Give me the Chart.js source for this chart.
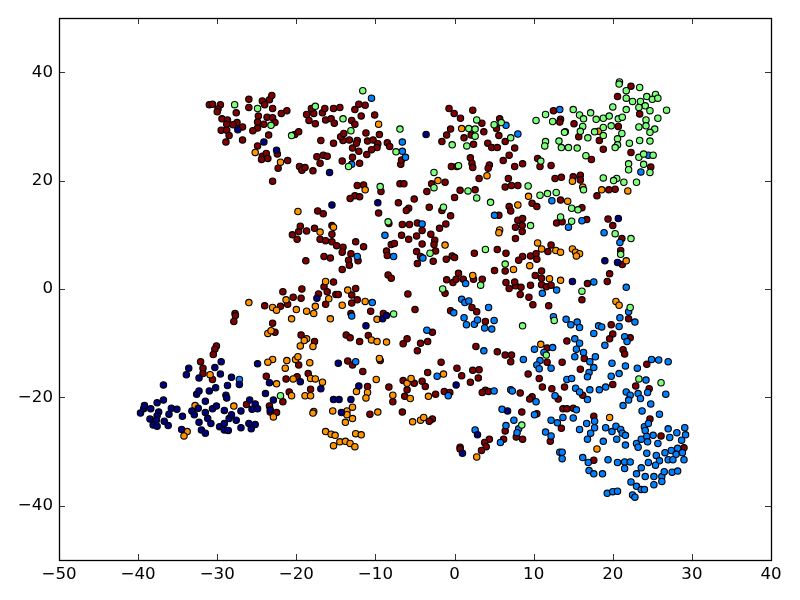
<!DOCTYPE html>
<html>
<head>
<meta charset="utf-8">
<script src="https://cdn.jsdelivr.net/npm/chart.js@4"></script>
<style>
  html, body { margin: 0; padding: 0; background: #fff; }
  canvas { display: block; }
</style>
</head>
<body>
<canvas id="scatter" width="800" height="600"></canvas>
<script>
// tick values
const xTicks = [-50, -40, -30, -20, -10, 0, 10, 20, 30, 40];
const yTicks = [-40, -20, 0, 20, 40];

// values, one list per colour
const navyPoints = [
  [-39.7,-22.9],[-39.3,-22.1],[-39.2,-21.5],[-38.4,-22.1],[-37.6,-21.0],[-36.8,-20.5],[-37.4,-22.7],[-37.6,-23.4],[-38.5,-24.0],[-37.7,-24.2],
  [-38.1,-25.1],[-37.6,-25.3],[-36.7,-24.4],[-36.2,-25.2],[-36.1,-23.1],[-35.8,-22.0],[-35.1,-22.2],[-34.4,-23.5],[-34.5,-25.9],[-36.8,-17.7],
  [-33.9,-15.8],[-33.6,-14.6],[-32.3,-16.4],[-32.6,-19.4],[-32.3,-18.8],[-31.0,-18.8],[-30.2,-18.2],[-29.6,-15.7],[-30.3,-14.5],[-29.5,-13.4],
  [-28.7,-17.8],[-28.2,-16.3],[-27.2,-17.6],[-28.9,-19.6],[-28.8,-20.1],[-31.5,-20.7],[-33.2,-22.5],[-32.9,-23.2],[-32.4,-22.0],[-31.5,-22.8],
  [-30.6,-22.1],[-30.1,-21.6],[-29.1,-22.4],[-31.2,-23.9],[-30.8,-24.8],[-32.3,-24.6],[-32.0,-26.0],[-31.5,-26.6],[-29.7,-25.4],[-29.1,-24.8],
  [-29.1,-26.0],[-28.6,-26.1],[-28.5,-23.9],[-28.2,-23.2],[-27.6,-24.2],[-27.0,-25.6],[-26.0,-24.8],[-25.7,-25.8],[-25.2,-25.0],[-27.0,-22.5],
  [-25.9,-20.5],[-25.2,-21.2],[-25.6,-22.2],[-24.9,-22.1],[-24.9,-13.8],
  [-17.4,-1.7],[-11.2,-6.8],[-9.1,-5.5],[-8.6,-4.9],[-14.7,-13.7],[-23.4,-17.3],[-19.5,-17.1],[-16.9,-18.4],[-23.9,-19.3],[-22.9,-20.5],
  [-15.3,-20.4],[-14.6,-20.4],[-13.1,-20.4],[-12.1,-17.9],[-14.3,-22.8],[0.2,-17.7],[-23.3,-22.3],
  [14.9,1.4],[6.7,-22.5],[2.9,-26.9],[1.0,-30.3],
  [-27.4,29.4],[-24.1,27.1],[-22.5,25.6],[-15.8,21.5],[-3.6,28.5],[-15.5,15.5],[-9.7,15.9],
  [20.7,13.0],[19.0,5.2],[20.6,4.9]
];
const bluePoints = [
  [-27.2,-16.7],[-10.4,-2.5],[-13.0,-5.0],[-3.5,-7.6],[-12.5,-13.4],[-2.2,-16.1],[-0.8,-19.7],
  [0.9,-1.9],[1.3,-2.5],[1.8,-2.2],[-0.1,-4.4],[4.3,-3.4],[1.2,-5.3],[1.5,-6.6],[2.5,-6.5],[2.9,-5.7],[3.8,-7.2],[4.7,-7.4],[5.0,-5.8],
  [21.7,0.3],[17.6,1.3],[11.1,-0.8],[12.9,-0.2],[22.0,-4.2],[20.9,-5.3],[20.8,-6.9],[22.8,-6.1],[12.5,-5.1],[14.1,-5.6],[14.7,-6.6],
  [15.5,-6.1],[15.8,-7.1],[17.6,-8.2],[18.2,-6.8],[18.6,-7.0],[21.5,-8.8],[21.8,-9.7],[19.0,-10.4],[15.2,-9.2],[15.8,-10.0],
  [15.4,-11.1],[16.3,-11.7],[15.2,-12.5],[17.8,-12.5],[17.1,-13.4],[17.6,-14.5],[17.0,-15.4],[16.8,-16.2],[10.1,-11.1],[12.4,-10.8],
  [8.7,-13.0],[10.8,-13.2],[10.4,-14.0],[10.7,-14.7],[12.2,-14.6],[11.3,-11.7],[19.9,-13.7],[21.6,-14.2],[20.8,-15.6],[19.8,-16.1],
  [23.1,-14.6],[24.9,-13.0],[25.8,-13.1],[27.0,-13.4],[14.2,-16.7],[14.8,-16.5],[24.2,-16.8],[15.3,-18.3],[15.8,-19.0],[17.1,-18.6],
  [16.8,-20.4],[18.3,-18.6],[19.1,-18.1],[21.7,-19.0],[22.2,-19.6],[23.2,-19.3],[23.5,-20.2],[22.0,-20.5],[21.3,-21.5],[24.4,-19.1],
  [26.7,-19.4],[24.8,-21.2],[23.7,-22.5],[25.9,-23.1],[3.7,-11.4],[5.0,-18.8],[7.1,-18.6],[7.3,-18.8],[10.3,-20.8],[6.0,-22.2],
  [7.5,-24.2],[6.5,-25.2],[8.1,-25.8],[7.9,-26.5],[5.8,-28.3],[2.6,-26.0],[12.2,-24.2],[13.0,-24.7],[13.7,-23.7],[15.0,-23.8],
  [15.4,-22.3],[10.1,-23.2],[11.5,-26.4],[12.2,-27.1],[15.8,-25.9],[16.7,-24.8],[17.7,-24.4],[17.7,-25.6],[17.2,-26.6],[16.8,-27.7],
  [18.8,-28.1],[19.1,-25.6],[19.9,-26.3],[20.4,-25.3],[21.0,-25.9],[21.2,-26.6],[21.6,-27.0],[20.5,-27.7],[21.6,-28.8],[23.0,-28.5],
  [23.2,-29.2],[24.0,-25.4],[24.5,-24.8],[24.1,-26.1],[25.1,-27.0],[23.6,-27.7],[24.3,-27.2],[24.4,-28.2],[25.7,-28.5],[27.0,-25.8],
  [27.2,-27.4],[28.1,-26.5],[29.1,-25.6],[29.2,-26.9],[28.7,-27.9],[28.2,-29.4],[27.4,-29.8],[26.6,-30.2],[24.3,-30.3],[25.5,-30.7],
  [28.0,-30.5],[28.8,-30.2],[27.0,-31.5],[27.6,-31.5],[29.0,-31.5],[25.9,-31.7],[25.4,-32.5],[24.5,-32.0],[23.6,-33.0],[23.0,-34.1],
  [24.1,-34.6],[25.2,-34.6],[26.2,-34.6],[26.5,-33.7],[27.5,-33.8],[28.2,-33.6],[26.2,-35.5],[25.2,-36.1],[22.3,-35.6],[23.0,-36.4],
  [23.6,-37.0],[24.0,-37.0],[19.3,-37.7],[20.0,-37.4],[20.6,-37.3],[22.5,-38.0],[22.8,-38.4],[16.2,-31.1],[16.9,-32.0],[17.0,-33.5],
  [17.6,-34.1],[18.7,-34.1],[19.4,-31.5],[20.6,-32.0],[21.5,-31.9],[22.2,-31.9],[21.5,-33.1],[13.3,-30.1],[13.6,-30.1],[13.6,-31.3],[12.7,-19.7],
  [-10.5,35.2],[-6.6,27.1],[-6.6,25.4],[-6.2,24.3],[-13.0,23.0],[-4.1,12.0],[-8.8,9.9],[-7.7,6.0],[-4.0,5.7],[-12.3,6.0],
  [13.3,33.1],[6.5,30.2],[8.0,28.6],[24.5,24.7],[23.55,21.6],[12.3,16.3],[5.05,13.6],[16.1,12.6],[14.4,11.4],[18.9,10.4],[20.9,8.6],[1.4,1.0]
];
const greenPoints = [
  [-1.5,0.0],[-7.7,-4.6],[-22.0,-19.7],[3.3,0.7],[16.1,-0.4],[22.2,-3.4],[8.6,-6.8],[12.6,-5.8],[11.6,-12.2],[23.3,-16.6],[26.1,-17.3],[8.5,-25.1],
  [-27.8,34.0],[-24.9,33.3],[-23.2,30.2],[-20.6,28.3],[-17.6,33.7],[-14.1,31.4],[-13.1,29.2],[-11.6,36.6],[-6.9,29.5],[-7.4,25.3],
  [-13.4,22.6],[-2.6,21.5],[-2.6,18.7],[-9.4,18.9],[-1.4,15.1],[-8.4,12.4],[-3.1,6.6],
  [20.85,38.2],[20.8,37.8],[23.4,37.2],[21.7,36.6],[24.3,35.5],[25.4,35.9],[25.0,35.0],[25.7,35.2],[21.7,35.2],[22.5,34.6],
  [23.5,34.6],[24.1,33.8],[23.3,33.5],[20.0,33.6],[21.7,33.1],[24.7,32.9],[26.8,33.0],[15.0,33.1],[15.8,32.1],[16.3,31.4],
  [17.2,32.5],[17.9,31.3],[18.8,31.5],[19.55,31.9],[20.7,31.4],[21.2,31.7],[25.7,31.5],[24.2,31.2],[24.2,30.1],[23.3,29.9],
  [25.3,29.5],[24.7,28.9],[16.2,30.0],[15.9,29.1],[19.8,30.1],[18.8,29.8],[14.0,29.0],[13.9,28.9],[17.7,29.0],[18.8,28.3],
  [16.85,27.9],[21.15,28.7],[20.6,27.7],[20.6,26.6],[20.3,26.1],[22.1,26.9],[23.4,27.4],[24.7,27.3],[13.2,27.3],[11.5,27.2],
  [11.4,26.4],[13.5,26.1],[14.4,26.1],[15.5,26.0],[16.6,24.6],[23.3,24.3],[23.9,24.9],[25.1,24.7],[22.0,23.1],[22.0,22.0],
  [23.9,23.0],[24.7,21.5],[18.8,20.5],[20.5,20.4],[20.1,20.0],[21.4,19.7],[23.0,19.7],[21.0,6.4],[22.3,9.3],[20.3,10.2],
  [10.3,31.1],[11.5,32.2],[12.4,30.9],[2.8,31.2],[1.8,29.6],[2.6,29.5],[2.6,28.2],[-0.3,26.6],[1.55,26.4],[5.0,30.3],
  [5.9,30.7],[7.1,27.9],[10.9,23.6],[0.5,22.75],[9.3,19.0],[10.8,17.3],[11.75,17.6],[12.85,17.8],[1.7,18.1],[2.8,16.8],
  [4.55,16.0],[14.8,14.9],[15.6,14.6],[16.3,18.3],[13.4,13.3],[14.8,12.5],[9.6,11.7],[3.9,7.3],[6.4,4.6]
];
const orangePoints = [
  [-26.0,-2.5],[-30.9,-15.8],[-32.8,-21.5],[-27.9,-21.6],[-33.8,-26.3],[-34.2,-27.1],
  [-16.3,1.4],[-13.5,-0.2],[-15.9,-1.8],[-17.6,-3.2],[-14.2,-3.0],[-11.3,-2.3],[-23.0,-3.4],[-22.5,-3.9],[-21.3,-2.0],[-20.0,-3.8],
  [-18.7,-4.1],[-17.8,-4.5],[-20.6,-5.5],[-15.7,-5.5],[-9.8,-5.6],[-23.6,-8.2],[-23.2,-7.7],[-18.7,-9.2],[-19.0,-9.5],[-19.5,-10.5],
  [-17.9,-10.6],[-10.5,-9.4],[-9.8,-9.7],[-8.6,-9.8],[-23.0,-13.0],[-23.6,-13.5],[-21.2,-13.2],[-20.1,-13.0],[-19.8,-12.5],[-18.3,-13.6],
  [-21.4,-14.6],[-9.5,-12.8],[-9.9,-16.7],[-20.4,-16.6],[-18.2,-16.5],[-17.6,-16.6],[-16.7,-17.2],[-22.5,-17.5],[-20.6,-19.7],[-18.9,-19.7],
  [-18.2,-19.7],[-12.4,-18.9],[-11.0,-19.1],[-11.2,-20.1],[-7.8,-19.6],[-6.0,-17.4],[-5.5,-16.5],[-5.6,-20.2],[-3.3,-19.8],[-1.4,-15.7],
  [-17.8,-22.6],[-17.9,-22.9],[-15.4,-22.5],[-13.6,-22.5],[-13.6,-23.2],[-12.9,-21.8],[-12.9,-23.9],[-13.8,-24.6],[-9.7,-22.7],[-22.9,-23.6],
  [-16.3,-26.3],[-15.6,-26.8],[-15.1,-27.0],[-12.5,-26.7],[-11.8,-26.9],[-15.3,-28.9],[-14.5,-28.2],[-13.8,-28.1],[-13.2,-28.5],[-12.6,-29.1],
  [-5.3,-24.5],[-4.3,-24.2],[-3.9,-23.7],
  [20.4,-2.3],[20.8,-3.0],[10.9,-10.2],[19.6,-23.7],[18.0,-29.5],[2.8,-31.0],
  [-9.6,30.4],[-25.2,25.2],[-22.0,23.4],[-2.1,20.0],[-11.3,18.3],[-19.8,14.3],[-15.3,11.4],[-17.0,10.5],[-1.2,8.1],
  [0.9,29.6],[18.2,29.1],[4.1,20.9],[14.9,19.9],[16.2,18.8],[18.6,18.3],[21.9,18.1],[9.35,17.1],[14.3,16.2],[8.0,15.5],
  [5.7,10.9],[5.6,10.4],[10.5,8.5],[11.0,7.4],[12.8,7.1],[13.4,6.8],[14.9,7.4],[15.3,6.8],[15.8,6.5],[15.4,6.1],
  [21.7,5.2],[9.5,4.3],[7.45,3.6],[2.3,2.5],[12.0,1.9],[13.4,1.6]
];
const redPoints = [
  [-27.75,-4.5],[-27.7,-4.9],[-27.9,-6.0],[-30.1,-10.5],[-30.3,-11.1],[-30.5,-12.1],[-32.1,-13.4],[-31.8,-14.6],[-31.8,-15.6],[-30.6,-16.7],[-26.3,-21.3],
  [-21.7,-0.5],[-19.3,0.0],[-20.4,-1.5],[-19.4,-1.7],[-24.0,-3.1],[-22.0,-3.2],[-21.1,-2.8],[-16.5,0.4],[-17.2,-0.9],[-16.1,-0.5],
  [-15.3,1.3],[-15.0,-1.0],[-14.7,-1.0],[-16.3,-2.8],[-13.0,-1.1],[-12.5,0.1],[-12.3,-2.0],[-13.0,-2.6],[-13.1,-4.5],[-10.6,-4.1],
  [-9.0,-4.5],[-5.9,-0.9],[-5.0,-3.8],[-1.2,-0.8],[-0.5,-4.0],[-23.0,-6.3],[-22.7,-8.0],[-19.4,-8.5],[-17.7,-9.7],[-13.7,-8.5],
  [-13.2,-9.0],[-12.0,-9.7],[-10.9,-8.6],[-6.0,-9.2],[-6.5,-10.1],[-4.3,-10.0],[-3.4,-9.7],[-4.7,-11.4],[-2.8,-8.0],[-13.5,-13.3],
  [-12.9,-14.0],[-9.4,-13.2],[-11.6,-15.2],[-1.7,-13.5],[-3.4,-15.4],[0.3,-14.6],[-23.8,-16.1],[-21.3,-16.6],[-19.9,-16.2],[-19.7,-14.0],
  [-18.5,-15.6],[-20.9,-19.0],[-21.7,-20.8],[-18.2,-18.5],[-11.0,-18.0],[-8.3,-18.1],[-6.5,-16.9],[-5.1,-17.4],[-4.1,-17.0],[-3.7,-18.0],
  [-6.0,-18.6],[-6.3,-19.8],[-2.4,-19.4],[-1.3,-18.9],[-0.6,-19.1],[-7.8,-20.8],[-23.4,-21.6],[-23.3,-22.7],[-22.5,-22.8],[-10.7,-23.1],
  [-6.6,-22.7],[-2.8,-24.0],[-3.2,-24.4],
  [2.2,-3.4],[2.8,-4.2],[3.9,-6.0],[6.5,1.2],[6.9,0.1],[7.7,0.6],[8.4,0.3],[8.3,-1.0],[9.6,0.7],[9.4,-1.5],
  [9.9,-2.9],[11.9,-3.1],[11.0,0.8],[11.6,0.4],[12.2,0.7],[16.8,1.0],[19.3,1.4],[16.1,-2.0],[19.8,-6.6],[20.0,-8.3],
  [19.6,-9.2],[22.0,-5.5],[22.2,-9.0],[21.3,-11.2],[21.5,-12.0],[14.2,-9.6],[11.7,-10.9],[13.6,-13.5],[11.7,-13.5],[5.4,-11.6],
  [6.4,-12.2],[7.2,-12.2],[7.1,-13.4],[2.7,-10.6],[15.9,-14.8],[16.4,-12.8],[24.3,-13.9],[22.9,-17.9],[24.6,-18.4],[20.0,-17.6],
  [16.2,-19.6],[9.3,-15.7],[10.7,-16.5],[11.1,-18.1],[12.3,-18.4],[13.9,-18.1],[0.9,-16.0],[2.3,-15.0],[3.1,-14.9],[3.0,-16.4],
  [2.0,-17.2],[3.9,-18.7],[3.5,-19.1],[4.3,-18.9],[8.3,-19.2],[9.8,-19.9],[9.5,-20.3],[13.1,-20.3],[13.7,-22.1],[14.2,-22.1],
  [15.0,-22.0],[8.5,-22.7],[10.4,-23.0],[17.6,-23.5],[13.5,-25.7],[24.7,-24.0],[26.1,-27.1],[29.0,-29.3],[6.4,-26.2],[4.4,-27.7],
  [6.2,-27.7],[3.8,-28.3],[4.0,-29.1],[3.4,-29.8],[7.8,-27.3],[8.6,-27.7],[12.1,-28.1],[17.6,-31.6],[0.7,-29.2],[0.7,-29.5],
  [-31.0,34.0],[-30.6,34.1],[-29.6,34.0],[-29.9,33.2],[-30.0,32.7],[-27.6,32.5],[-29.4,31.4],[-28.7,31.2],[-28.8,30.4],[-27.5,30.7],
  [-28.0,30.3],[-26.8,29.9],[-29.5,29.3],[-28.8,29.3],[-28.5,28.3],[-28.9,27.1],[-26.8,27.5],[-26.0,35.0],[-26.0,33.5],[-24.3,34.7],
  [-23.4,34.9],[-23.1,35.7],[-24.0,34.0],[-23.0,33.3],[-24.8,31.9],[-24.9,30.8],[-24.9,29.7],[-25.5,29.2],[-24.1,30.4],[-23.7,31.7],
  [-23.0,31.6],[-22.7,30.7],[-21.9,32.4],[-21.2,32.9],[-23.5,28.4],[-24.9,26.4],[-24.3,24.5],[-23.8,25.0],[-23.6,24.1],[-22.4,24.9],
  [-24.4,23.9],[-21.1,23.7],[-22.3,22.3],[-19.6,22.6],[-19.3,21.9],[-18.9,22.4],[-17.9,21.8],[-23.0,19.9],[-20.2,28.5],[-19.7,29.0],
  [-18.7,32.2],[-17.8,32.4],[-18.1,33.3],[-18.4,31.1],[-17.6,30.5],[-16.7,32.5],[-16.4,33.3],[-15.3,33.3],[-14.5,33.5],[-16.3,31.2],
  [-15.6,31.4],[-15.2,30.6],[-16.9,27.4],[-15.3,26.9],[-17.4,24.4],[-16.6,24.7],[-16.1,24.5],[-17.0,23.2],[-14.2,23.6],[-12.0,23.2],
  [-12.9,24.3],[-12.1,25.4],[-12.9,26.0],[-12.3,27.4],[-12.4,26.9],[-13.3,27.5],[-14.1,27.4],[-14.4,28.1],[-14.0,28.7],[-12.6,33.1],
  [-12.1,34.1],[-11.3,33.9],[-11.8,31.9],[-13.0,31.1],[-12.6,30.4],[-10.1,32.1],[-11.2,28.8],[-9.5,28.5],[-11.0,27.3],[-10.3,27.5],
  [-9.7,26.8],[-9.8,26.1],[-10.5,25.7],[-11.1,24.8],[-8.5,27.0],[-8.2,26.3],[-6.8,23.0],[-6.7,23.8],
  [-12.3,19.1],[-11.5,19.2],[-12.6,17.2],[-12.0,17.0],[-13.2,16.7],[-9.3,18.0],[-6.9,19.4],[-6.4,19.4],[-2.9,19.4],[-3.5,18.0],
  [-7.1,15.9],[-5.8,14.9],[-6.1,14.5],[-5.1,16.6],[-3.2,15.1],[-1.6,14.5],[-9.6,14.0],[-17.3,14.4],[-16.6,13.9],[-20.5,10.0],
  [-19.9,9.2],[-19.7,10.6],[-19.5,11.6],[-18.7,10.7],[-17.7,11.2],[-15.5,11.7],[-15.5,10.1],[-17.0,9.2],[-16.3,8.9],[-15.5,8.7],
  [-14.9,8.0],[-14.1,7.7],[-14.2,6.8],[-12.5,8.7],[-11.5,7.8],[-16.5,6.0],[-15.7,5.7],[-13.1,6.5],[-13.4,5.3],[-12.2,5.2],
  [-13.3,4.4],[-18.8,5.2],[-14.2,3.6],[-8.3,12.1],[-6.6,11.9],[-5.7,11.9],[-4.7,12.2],[-4.1,10.8],[-6.7,9.9],[-5.8,9.2],
  [-4.8,9.8],[-3.0,10.1],[-2.5,9.0],[-2.6,8.2],[-4.1,8.3],[-2.4,7.0],[-1.9,11.2],[-4.8,6.9],[-4.3,6.0],[-4.7,4.7],
  [-2.7,5.1],[-8.0,8.2],[-7.6,8.4],[-8.6,7.0],[-8.5,6.2],[-8.4,2.6],[-8.0,2.0],
  [-0.7,33.3],[-0.05,32.4],[0.75,31.5],[2.3,33.0],[-0.5,29.5],[-1.0,28.4],[-1.6,27.2],[1.2,27.9],[2.1,28.4],[2.4,26.7],
  [3.45,30.6],[3.7,29.0],[5.3,29.6],[5.7,31.4],[5.6,28.3],[6.4,27.2],[7.6,26.0],[4.2,26.9],[4.7,26.1],[5.4,26.1],
  [12.5,32.9],[13.4,31.3],[13.3,30.8],[15.1,30.5],[15.7,28.1],[18.3,27.4],[18.8,25.8],[20.7,30.0],[20.6,35.5],[22.3,37.4],
  [23.4,32.3],[22.3,25.2],[24.8,22.5],[17.3,23.9],[6.9,24.7],[6.15,23.7],[7.6,22.6],[8.6,23.1],[10.5,24.1],[10.8,22.6],
  [12.2,22.8],[2.0,24.2],[2.2,23.2],[2.3,22.4],[4.4,22.9],[4.25,22.3],[-0.4,22.6],[0.3,22.6],[3.1,20.4],[-1.2,19.7],
  [6.8,20.4],[6.4,18.8],[7.2,19.1],[8.0,19.1],[12.7,20.4],[13.5,20.6],[15.0,20.7],[15.9,21.0],[15.9,20.1],[0.7,18.2],
  [2.6,18.3],[0.0,16.9],[20.3,18.4],[19.5,18.3],[18.0,17.2],[13.4,16.4],[9.8,15.8],[10.4,15.2],[6.9,15.2],[7.1,14.4],
  [16.1,15.0],[-0.5,13.5],[-1.1,12.0],[5.6,13.6],[8.0,12.7],[8.6,13.0],[7.7,11.4],[8.55,11.7],[8.55,10.6],[7.7,9.3],
  [12.9,12.2],[13.6,12.4],[16.7,12.8],[19.4,12.9],[20.0,11.7],[21.15,9.3],[21.0,7.1],[12.2,8.1],[11.8,6.9],[2.5,6.6],
  [-1.05,5.5],[-0.3,6.1],[0.0,5.8],[5.4,7.3],[6.5,6.6],[8.6,6.0],[8.1,5.3],[9.6,6.1],[10.3,6.5],[10.4,5.5],
  [5.05,3.4],[6.4,3.3],[0.5,2.9],[-1.0,1.7],[-0.2,1.2],[0.2,1.8],[1.1,1.8],[2.4,1.8],[3.5,1.8],[7.6,1.3],
  [10.2,2.5],[11.0,3.3],[11.0,2.0],[19.6,2.8],[21.2,4.5]
];

function makeSet(points, colour) {
  return {
    data: points.map(p => ({ x: p[0], y: p[1] })),
    backgroundColor: colour,
    borderColor: '#000',
    borderWidth: 1.1,
    pointRadius: 3.2
  };
}

// matplotlib style box with ticks pointing inwards on all four sides
const frame = {
  id: 'frame',
  afterDatasetsDraw(chart) {
    const c = chart.ctx, a = chart.chartArea;
    c.save();
    c.strokeStyle = '#000';
    c.lineWidth = 0.8;
    c.beginPath();
    chart.scales.x.ticks.forEach(t => {
      const px = Math.round(chart.scales.x.getPixelForValue(t.value)) + 0.5;
      c.moveTo(px, a.top); c.lineTo(px, a.top + 6);
      c.moveTo(px, a.bottom); c.lineTo(px, a.bottom - 6);
    });
    chart.scales.y.ticks.forEach(t => {
      const py = Math.round(chart.scales.y.getPixelForValue(t.value)) + 0.5;
      c.moveTo(a.left, py); c.lineTo(a.left + 6, py);
      c.moveTo(a.right, py); c.lineTo(a.right - 6, py);
    });
    c.stroke();
    c.lineWidth = 1.3;
    c.strokeRect(a.left + 0.5, a.top + 0.5, a.right - a.left, a.bottom - a.top);
    c.restore();
  }
};

const tickFont = { family: '"DejaVu Sans"', size: 16.67 };
const minus = v => String(v).replace('-', '\u2212');

new Chart(document.getElementById('scatter').getContext('2d'), {
  type: 'scatter',
  data: {
    datasets: [
      makeSet(navyPoints, '#00007f'),
      makeSet(greenPoints, '#7cff79'),
      makeSet(bluePoints, '#0080ff'),
      makeSet(orangePoints, '#ff9400'),
      makeSet(redPoints, '#7f0000')
    ]
  },
  options: {
    responsive: false,
    animation: false,
    devicePixelRatio: 1,
    layout: { padding: { top: 18, right: 29, left: 0, bottom: 0 } },
    plugins: { legend: { display: false }, tooltip: { enabled: false } },
    scales: {
      x: {
        min: -50, max: 40,
        grid: { display: false, tickLength: 5 },
        border: { display: false },
        afterBuildTicks: s => { s.ticks = xTicks.map(v => ({ value: v })); },
        afterFit: s => { s.height = 40; },
        ticks: { color: '#000', font: tickFont, padding: 0, maxRotation: 0, autoSkip: false, callback: minus }
      },
      y: {
        min: -50, max: 50,
        grid: { display: false, tickLength: 6 },
        border: { display: false },
        afterBuildTicks: s => { s.ticks = yTicks.map(v => ({ value: v })); },
        afterFit: s => { s.width = 59; },
        ticks: { color: '#000', font: tickFont, padding: 0, autoSkip: false, callback: minus }
      }
    }
  },
  plugins: [frame]
});
</script>
</body>
</html>
